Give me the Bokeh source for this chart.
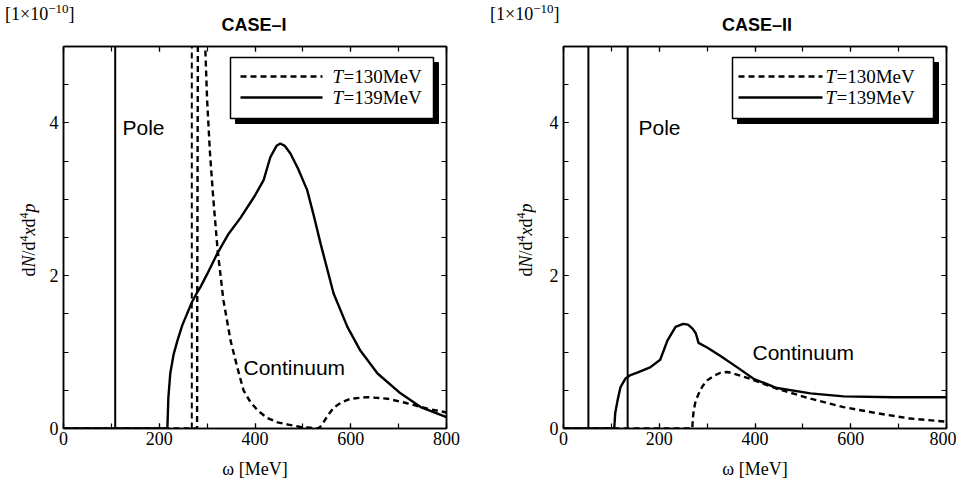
from bokeh.plotting import figure
from bokeh.models import Label, Range1d, LinearAxis, FixedTicker, CustomJSTickFormatter, Div
from bokeh.layouts import row, column
from bokeh.embed import file_html
from bokeh.resources import INLINE

# ---------------- data ----------------
X_MAX = 800
Y_MAX = 5
x_major = [0, 200, 400, 600, 800]
x_minor = [0, 100, 200, 300, 400, 500, 600, 700, 800]
y_major = [0, 2, 4]
y_minor = [0, 0.5, 1, 1.5, 2, 2.5, 3, 3.5, 4, 4.5, 5]

# CASE-I
case1_pole_139 = [108]
case1_pole_130 = [268]
case1_w_139 = [0, 217, 219, 223, 230, 238, 248, 258, 268, 279, 286, 300, 322, 345, 370,
               400, 418, 432, 445, 453, 462, 474, 490, 509, 523, 537, 564, 593, 620,
               656, 704, 746, 800]
case1_y_139 = [0, 0, 0.40, 0.72, 0.97, 1.15, 1.35, 1.50, 1.65, 1.78, 1.85, 2.02, 2.30,
               2.55, 2.76, 3.05, 3.25, 3.55, 3.70, 3.73, 3.70, 3.60, 3.40, 3.12, 2.78,
               2.42, 1.77, 1.33, 1.02, 0.72, 0.46, 0.28, 0.15]
case1_w_130 = [0, 279, 279.5, 281, 284, 288, 292, 296, 300, 306, 313, 322, 334, 349, 363,
               376, 390, 405, 425, 447, 470, 495, 515, 530, 536, 541, 552, 564, 580, 600,
               635, 677, 718, 760, 800]
case1_y_130 = [0, 0, 2.0, 6.0, 8.0, 8.0, 7.0, 5.0, 4.3, 3.6, 3.0, 2.33, 1.68, 1.15, 0.80,
               0.50, 0.35, 0.24, 0.14, 0.08, 0.05, 0.02, 0.01, 0.0, 0.02, 0.06, 0.17, 0.27,
               0.34, 0.39, 0.41, 0.39, 0.33, 0.26, 0.21]

# CASE-II
case2_poles = [52, 134]
case2_w_139 = [0, 106, 108, 113, 119, 129, 140, 154, 181, 202, 217, 234, 250, 260, 269,
               276, 279, 282, 300, 328, 363, 397, 446, 516, 585, 689, 800]
case2_y_139 = [0, 0, 0.20, 0.37, 0.54, 0.65, 0.70, 0.73, 0.80, 0.90, 1.15, 1.33, 1.37,
               1.36, 1.31, 1.25, 1.19, 1.12, 1.06, 0.95, 0.80, 0.65, 0.53, 0.46, 0.42,
               0.41, 0.41]
case2_w_130 = [0, 269, 270, 272, 276, 282, 290, 300, 314, 328, 342, 355, 390, 446, 516,
               585, 655, 724, 800]
case2_y_130 = [0, 0, 0.12, 0.24, 0.36, 0.45, 0.55, 0.63, 0.69, 0.73, 0.74, 0.72, 0.65,
               0.52, 0.39, 0.28, 0.20, 0.13, 0.09]

titles = ["CASE\u2013I", "CASE\u2013II"]
legend_labels = ["=130MeV", "=139MeV"]
x_label = "\u03c9 [MeV]"

# ---------------- layout ----------------
FW, FH = 383, 382
HEAD = 30           # height of the heading strip above the figures
TOP = 16            # figure border above frame
BOTTOM = 55
FIG_H = TOP + FH + BOTTOM
SERIF = "Liberation Serif"
SANS = "Liberation Sans"
DASH = "6 4"
LW = 2.4


def make_fig(left, right):
    p = figure(frame_width=FW, frame_height=FH,
               min_border_left=left, min_border_right=right,
               min_border_top=TOP, min_border_bottom=BOTTOM,
               x_range=Range1d(0, X_MAX), y_range=Range1d(0, Y_MAX),
               output_backend="svg", toolbar_location=None)
    p.xgrid.visible = False
    p.ygrid.visible = False
    p.outline_line_color = "black"
    p.outline_line_width = 1.5
    p.background_fill_color = "white"
    p.border_fill_color = "white"

    bottom_ax = p.xaxis[0]
    left_ax = p.yaxis[0]
    bottom_ax.ticker = FixedTicker(ticks=x_major, minor_ticks=x_minor)
    left_ax.ticker = FixedTicker(ticks=y_major, minor_ticks=y_minor)
    top_ax = LinearAxis(ticker=FixedTicker(ticks=x_major, minor_ticks=x_minor),
                        formatter=CustomJSTickFormatter(code="return ''"))
    right_ax = LinearAxis(ticker=FixedTicker(ticks=y_major, minor_ticks=y_minor),
                          formatter=CustomJSTickFormatter(code="return ''"))
    p.add_layout(top_ax, "above")
    p.add_layout(right_ax, "right")
    for ax in [bottom_ax, left_ax, top_ax, right_ax]:
        ax.axis_line_width = 1.5
        ax.major_tick_in = 5
        ax.major_tick_out = 0
        ax.minor_tick_in = 5
        ax.minor_tick_out = 0
        ax.major_tick_line_width = 1.2
        ax.minor_tick_line_width = 1.2
        ax.major_label_text_font = SERIF
        ax.major_label_text_font_size = "18px"
        ax.major_label_text_color = "black"
    for ax in (top_ax, right_ax):
        ax.major_label_text_font_size = "1px"
        ax.major_label_standoff = 0
    bottom_ax.major_label_standoff = 3
    left_ax.major_label_standoff = 5
    bottom_ax.axis_label = x_label
    bottom_ax.axis_label_text_font = SERIF
    bottom_ax.axis_label_text_font_size = "18px"
    bottom_ax.axis_label_text_font_style = "normal"
    bottom_ax.axis_label_text_color = "black"
    bottom_ax.axis_label_standoff = 11
    return p


def converters(left):
    def dx(px):
        return (px - left) / FW * X_MAX

    def dy(py):
        return (TOP + FH - py) / FH * Y_MAX
    return dx, dy


def text(p, x, y, s, size, font=SERIF, style="normal", align="left", baseline="middle"):
    p.add_layout(Label(x=x, y=y, text=s, text_font=font, text_font_size=size,
                       text_font_style=style, text_align=align,
                       text_baseline=baseline, text_color="black"))


def decorate(p, left, legend_px, pole_px, cont_px):
    dx, dy = converters(left)
    text(p, dx(pole_px[0]), dy(pole_px[1]), "Pole", "21px", font=SANS)
    text(p, dx(cont_px[0]), dy(cont_px[1]), "Continuum", "21px", font=SANS)
    lx0, lx1, ly0, ly1 = legend_px["box"]
    off = 5
    p.quad(left=[dx(lx0 + off)], right=[dx(lx1 + off)], top=[dy(ly0 + off)],
           bottom=[dy(ly1 + off)], fill_color="black", line_color="black")
    p.quad(left=[dx(lx0)], right=[dx(lx1)], top=[dy(ly0)], bottom=[dy(ly1)],
           fill_color="white", line_color="black", line_width=1.5)
    sx0, sx1 = legend_px["sample"]
    tx = legend_px["text"]
    for (yy, dash, lab) in ((legend_px["rows"][0], DASH, legend_labels[0]),
                            (legend_px["rows"][1], "solid", legend_labels[1])):
        p.segment(x0=[dx(sx0)], x1=[dx(sx1)], y0=[dy(yy)], y1=[dy(yy)],
                  line_color="black", line_width=LW, line_dash=dash)
        text(p, dx(tx), dy(yy), "T", "19px", style="italic")
        text(p, dx(tx + 11), dy(yy), lab, "19px")


def heading(width, scale_left, title_center, title):
    html = (
        f'<div style="position:relative;width:{width}px;height:{HEAD}px;color:black;">'
        f'<span style="position:absolute;left:{scale_left}px;top:5px;'
        f'font-family:\'Liberation Serif\';font-size:18px;line-height:18px;white-space:nowrap;">'
        f'[1\u00d710<span style="font-size:13px;position:relative;top:-7px;">\u221210</span>]</span>'
        f'<span style="position:absolute;left:{title_center - 100}px;width:200px;top:16px;'
        f'text-align:center;font-family:\'Liberation Sans\';font-weight:bold;font-size:18px;'
        f'line-height:18px;white-space:nowrap;">{title}</span>'
        f'</div>'
    )
    return Div(text=html, width=width, height=HEAD, margin=0)


def ylabel_div(width, center_x, center_y):
    sup = '<span style="font-size:12px;position:relative;top:-7px;">4</span>'
    label = f'd<i>N</i>/d{sup}<i>x</i>d{sup}<i>p</i>'
    html = (
        f'<div style="position:relative;width:{width}px;height:{FIG_H}px;color:black;">'
        f'<span style="position:absolute;left:{center_x}px;top:{center_y}px;'
        f'transform:translate(-50%,-50%) rotate(-90deg);font-family:\'Liberation Serif\';'
        f'font-size:18px;line-height:18px;white-space:nowrap;">{label}</span></div>'
    )
    return Div(text=html, width=width, height=FIG_H, margin=0)


# ---------- CASE-I ----------
D1 = 45
L1, R1 = 63 - D1, 34
p1 = make_fig(L1, R1)
p1.segment(x0=case1_pole_139, x1=case1_pole_139, y0=[0], y1=[Y_MAX],
           line_color="black", line_width=2.0)
p1.segment(x0=case1_pole_130, x1=case1_pole_130, y0=[0], y1=[Y_MAX],
           line_color="black", line_width=2.0, line_dash=DASH)
p1.line(case1_w_130, case1_y_130, line_color="black", line_width=LW, line_dash=DASH)
p1.line(case1_w_139, case1_y_139, line_color="black", line_width=LW)
decorate(p1, L1,
         legend_px={"box": (230 - D1, 433 - D1, 57 - HEAD, 118 - HEAD),
                    "sample": (240 - D1, 322 - D1),
                    "text": 332 - D1, "rows": (76 - HEAD, 97 - HEAD)},
         pole_px=(122 - D1, 127 - HEAD), cont_px=(243 - D1, 367 - HEAD))

# ---------- CASE-II ----------
D2 = 55
L2, R2 = 83 - D2, 10
p2 = make_fig(L2, R2)
p2.segment(x0=case2_poles, x1=case2_poles, y0=[0, 0], y1=[Y_MAX, Y_MAX],
           line_color="black", line_width=2.0)
p2.line(case2_w_130, case2_y_130, line_color="black", line_width=LW, line_dash=DASH)
p2.line(case2_w_139, case2_y_139, line_color="black", line_width=LW)
decorate(p2, L2,
         legend_px={"box": (732 - 480 - D2, 933 - 480 - D2, 57 - HEAD, 118 - HEAD),
                    "sample": (738 - 480 - D2, 822 - 480 - D2), "text": 825 - 480 - D2,
                    "rows": (76 - HEAD, 97 - HEAD)},
         pole_px=(638 - 480 - D2, 127 - HEAD), cont_px=(752 - 480 - D2, 352 - HEAD))

w1 = D1 + L1 + FW + R1
w2 = D2 + L2 + FW + R2
h1 = heading(w1, 5, 254, titles[0])
h2 = heading(w2, 10, 757 - 480, titles[1])
y1 = ylabel_div(D1, 30, 240 - HEAD)
y2 = ylabel_div(D2, 527 - 480, 240 - HEAD)

layout = column(row(h1, h2), row(y1, p1, y2, p2))
open("out.html", "w").write(file_html(layout, INLINE))
